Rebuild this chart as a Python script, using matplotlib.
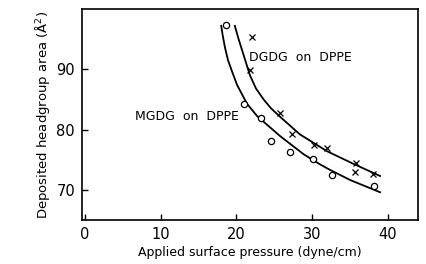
import matplotlib
matplotlib.use('Agg')
import matplotlib.pyplot as plt

# measured points
mgdg_x = [18.6, 21.0, 23.3, 24.6, 27.1, 30.1, 32.7, 38.2]
mgdg_y = [97.4, 84.3, 81.9, 78.1, 76.2, 75.1, 72.4, 70.7]
dgdg_x = [22.1, 21.8, 25.8, 27.4, 30.2, 32.0, 35.8, 35.7, 38.1]
dgdg_y = [95.4, 89.8, 82.7, 79.2, 77.4, 77.0, 74.5, 73.0, 72.6]

# fitted curves
mgdg_cx = [18.0, 18.2, 18.5, 18.9, 19.5, 20.1, 21.4, 22.7, 23.6, 25.8, 28.9, 31.1, 32.4, 35.1, 39.0]
mgdg_cy = [97.2, 95.6, 93.6, 91.5, 89.4, 87.4, 84.3, 82.3, 81.3, 78.9, 75.9, 74.2, 73.3, 71.6, 69.6]
dgdg_cx = [19.8, 20.3, 20.9, 21.8, 22.6, 23.6, 24.6, 25.8, 28.4, 31.1, 32.0, 35.5, 39.0]
dgdg_cy = [97.2, 95.0, 92.6, 89.0, 86.8, 85.0, 83.5, 82.1, 79.2, 77.1, 76.4, 74.3, 72.3]

plt.rcParams['font.family'] = 'DejaVu Sans'
fig = plt.figure(figsize=(4.26, 2.64), dpi=100)
ax = fig.add_axes([0.1925, 0.1667, 0.7885, 0.7993])

ax.plot(mgdg_cx, mgdg_cy, '-', color='black', linewidth=1.3)
ax.plot(dgdg_cx, dgdg_cy, '-', color='black', linewidth=1.3)
ax.plot(mgdg_x, mgdg_y, 'o', mfc='white', mec='black', ms=4.5, mew=0.9)
ax.plot(dgdg_x, dgdg_y, 'x', color='black', ms=4.5, mew=0.9)

ax.text(28.4, 92.0, 'DGDG  on  DPPE', ha='center', va='center', fontsize=9)
ax.text(13.5, 82.1, 'MGDG  on  DPPE', ha='center', va='center', fontsize=9)

ax.set_xlim(-0.4, 44.0)
ax.set_ylim(65, 100)
ax.set_xticks([0, 10, 20, 30, 40])
ax.set_yticks([70, 80, 90])
ax.tick_params(direction='in', length=4, width=1, labelsize=10.5, pad=5)
for s in ax.spines.values():
    s.set_linewidth(1.2)

ax.set_xlabel('Applied surface pressure (dyne/cm)', fontsize=9, labelpad=3)
ax.set_ylabel('Deposited headgroup area (Å$^2$)', fontsize=9.5, labelpad=3)

fig.savefig('out.png', dpi=100)
